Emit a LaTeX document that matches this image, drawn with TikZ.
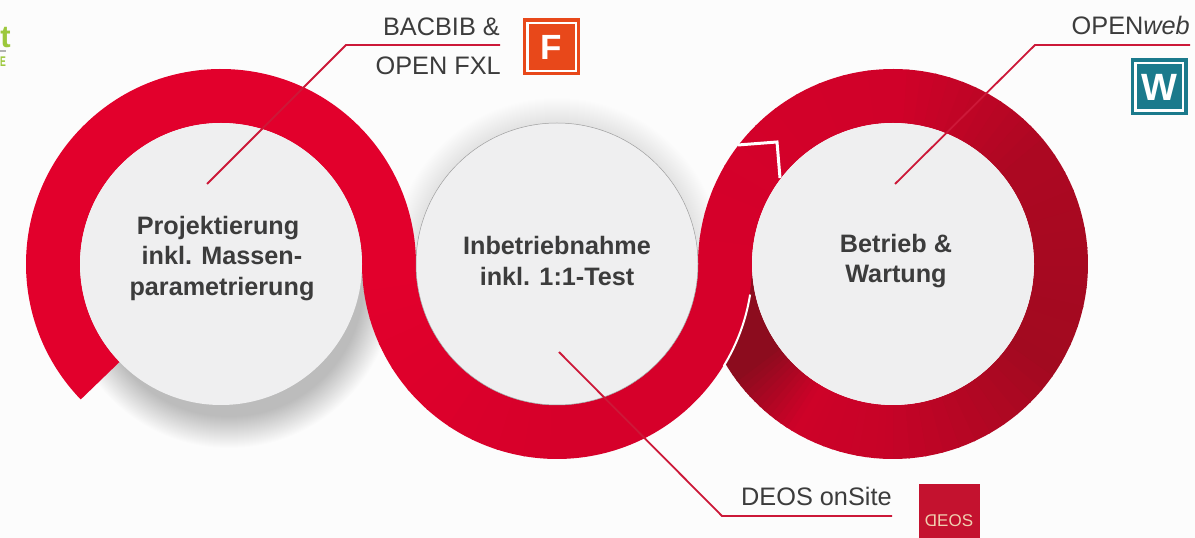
\documentclass[tikz,border=0pt]{standalone}
\usepackage{fontspec}
\usepackage{graphicx}
\setmainfont{Liberation Sans}
\definecolor{ribbon}{HTML}{E2002C}
\definecolor{ribbontwo}{HTML}{D6002A}
\definecolor{ribdark}{HTML}{A20A20}
\definecolor{ribend}{HTML}{8C0C1E}
\definecolor{disc}{HTML}{EFEFF0}
\definecolor{ink}{HTML}{3C3C3C}
\definecolor{leader}{HTML}{CC1838}
\definecolor{forange}{HTML}{E8481A}
\definecolor{wteal}{HTML}{1B7A8C}
\definecolor{deosred}{HTML}{C4122F}
\definecolor{deostxt}{HTML}{F0D0B0}
\definecolor{logogreen}{HTML}{9CC83C}
\tikzset{
  discnode/.style={circle,fill=disc,minimum size=282pt,inner sep=0pt},
  disclabel/.style={font=\fontsize{25.2}{30.5}\selectfont\bfseries,text=ink,align=center,inner sep=0pt},
  plainlabel/.style={font=\fontsize{25.3}{30}\selectfont,text=ink,inner sep=0pt},
  leaderline/.style={draw=leader,line width=1.8pt,line join=miter},
  iconbox/.style={minimum size=57pt,inner sep=0pt,font=\fontsize{35}{35}\selectfont\bfseries,text=white},
}
\usetikzlibrary{calc}
% annular sector from angle #2 to #3 around centre #1
\newcommand{\ringseg}[4]{\fill[#4] (#1) ++(#2:195) arc[start angle=#2,end angle=#3,radius=195] -- ($(#1)+(#3:141)$) arc[start angle=#3,end angle=#2,radius=141] -- cycle;}
\begin{document}
\begin{tikzpicture}[x=1pt,y=1pt]
\useasboundingbox (0,0) rectangle (1195,538);
\fill[white!99!black] (0,0) rectangle (1195,538);
\coordinate (c1) at (221,274);
\coordinate (c2) at (557,274);
\coordinate (c3) at (893,274);
% shadows
\foreach \i in {0,...,31} {
  \fill[black,opacity=.0085] (229,256) circle ({166-\i*1.0});
}
\foreach \i in {0,...,24} {
  \fill[black,opacity=.0035] (c2) circle ({166-\i*1.0});
}
% logo remnant
\node[font=\fontsize{31}{31}\selectfont\bfseries,text=logogreen,anchor=base east,inner sep=0pt] (logot) at (11,490) {t};
\node[font=\fontsize{14}{14}\selectfont\bfseries,text=logogreen,anchor=base west,inner sep=0pt] (logoe) at (0,471) {\scalebox{0.62}[1]{E}};
\fill[black!30] (0,486) rectangle (6,488);
% ribbon three, tail first
\foreach \s/\e/\ma/\mb in {180/90/100/88,90/40/88/20,40/-30/20/0,-30/-90/0/70,-90/-121/70/85} {
  \foreach \i in {0,...,11} {
    \pgfmathsetmacro{\aa}{\s+(\e-\s)*\i/12}
    \pgfmathsetmacro{\ab}{\s+(\e-\s)*(\i+1)/12-0.5}
    \pgfmathsetmacro{\mm}{\ma+(\mb-\ma)*\i/12}
    \ringseg{c3}{\aa}{\ab}{ribbontwo!\mm!ribdark}
  }
}
\foreach \i in {0,...,11} {
  \pgfmathsetmacro{\aa}{-121-24*\i/12}
  \pgfmathsetmacro{\ab}{-121-24*(\i+1)/12-0.5}
  \pgfmathsetmacro{\mm}{85-85*\i/11}
  \ringseg{c3}{\aa}{\ab}{ribbontwo!\mm!ribend}
}
\ringseg{c3}{-145}{-178}{ribend}
% ribbon one and two
\ringseg{c1}{224}{-0.4}{ribbon}
\foreach \i in {0,...,11} {
  \pgfmathsetmacro{\aa}{180+8*\i}
  \pgfmathsetmacro{\ab}{180+8*\i+8.5}
  \pgfmathsetmacro{\mm}{100-100*\i/11}
  \ringseg{c2}{\aa}{\ab}{ribbon!\mm!ribbontwo}
}
\ringseg{c2}{276}{360.4}{ribbontwo}
\draw[white,line width=2pt] ($(c2)+(-31.5:195.5)$) arc[start angle=-31.5,end angle=-9,radius=195.5];
% fold mark
\draw[white,line width=3pt,line join=miter] (738,393) -- (777,396) -- (780,360);
% discs
\node[discnode] (plan) at (c1) {};
\node[discnode,draw=black!38,line width=.5pt] (commission) at (c2) {};
\node[discnode] (operate) at (c3) {};
\node[disclabel] (plantext) at (222,279.5) {\hspace*{-8pt}Projektierung\\inkl. Massen-\\parametrierung};
\node[disclabel] (commtext) at (557,277) {Inbetriebnahme\\inkl. 1:1-Test};
\node[disclabel] (opertext) at (896,277) {Betrieb \&\\Wartung};
% labels
\node[plainlabel,anchor=base east] (bacbib) at (500,502) {BACBIB \&};
\node[plainlabel,anchor=base east] (openfxl) at (501,463) {OPEN FXL};
\node[plainlabel,anchor=base east] (openweb) at (1190,503) {OPEN\textit{web}};
\node[plainlabel,anchor=base west] (onsite) at (741,32) {DEOS onSite};
% icons
\node[iconbox,fill=forange] (ficon) at (551.5,491) {F};
\draw[white,line width=2.4pt] ($(ficon.south west)+(4.5,4.5)$) rectangle ($(ficon.north east)+(-4.5,-4.5)$);
\node[iconbox,fill=wteal,font=\fontsize{38}{38}\selectfont\bfseries] (wicon) at (1159,451) {W};
\draw[white,line width=2.4pt] ($(wicon.south west)+(5,5)$) rectangle ($(wicon.north east)+(-5,-5)$);
\node[fill=deosred,minimum width=61pt,minimum height=54pt,inner sep=0pt] (deos) at (949.5,27) {};
\node[inner sep=0pt,text=deostxt,font=\fontsize{17}{17}\selectfont] (deostext) at (949,17) {\scalebox{-1}[1]{D}EOS};
% leaders
\coordinate (la) at (207,354);
\coordinate (lab) at (346,493);
\coordinate (lae) at (500,493);
\coordinate (lb) at (559,186);
\coordinate (lbb) at (722,22);
\coordinate (lbe) at (892,22);
\coordinate (lc) at (895,354);
\coordinate (lcb) at (1035,493);
\coordinate (lce) at (1190,493);
\draw[leaderline] (la) -- (lab) -- (lae);
\draw[leaderline] (lb) -- (lbb) -- (lbe);
\draw[leaderline] (lc) -- (lcb) -- (lce);
\end{tikzpicture}
\end{document}
